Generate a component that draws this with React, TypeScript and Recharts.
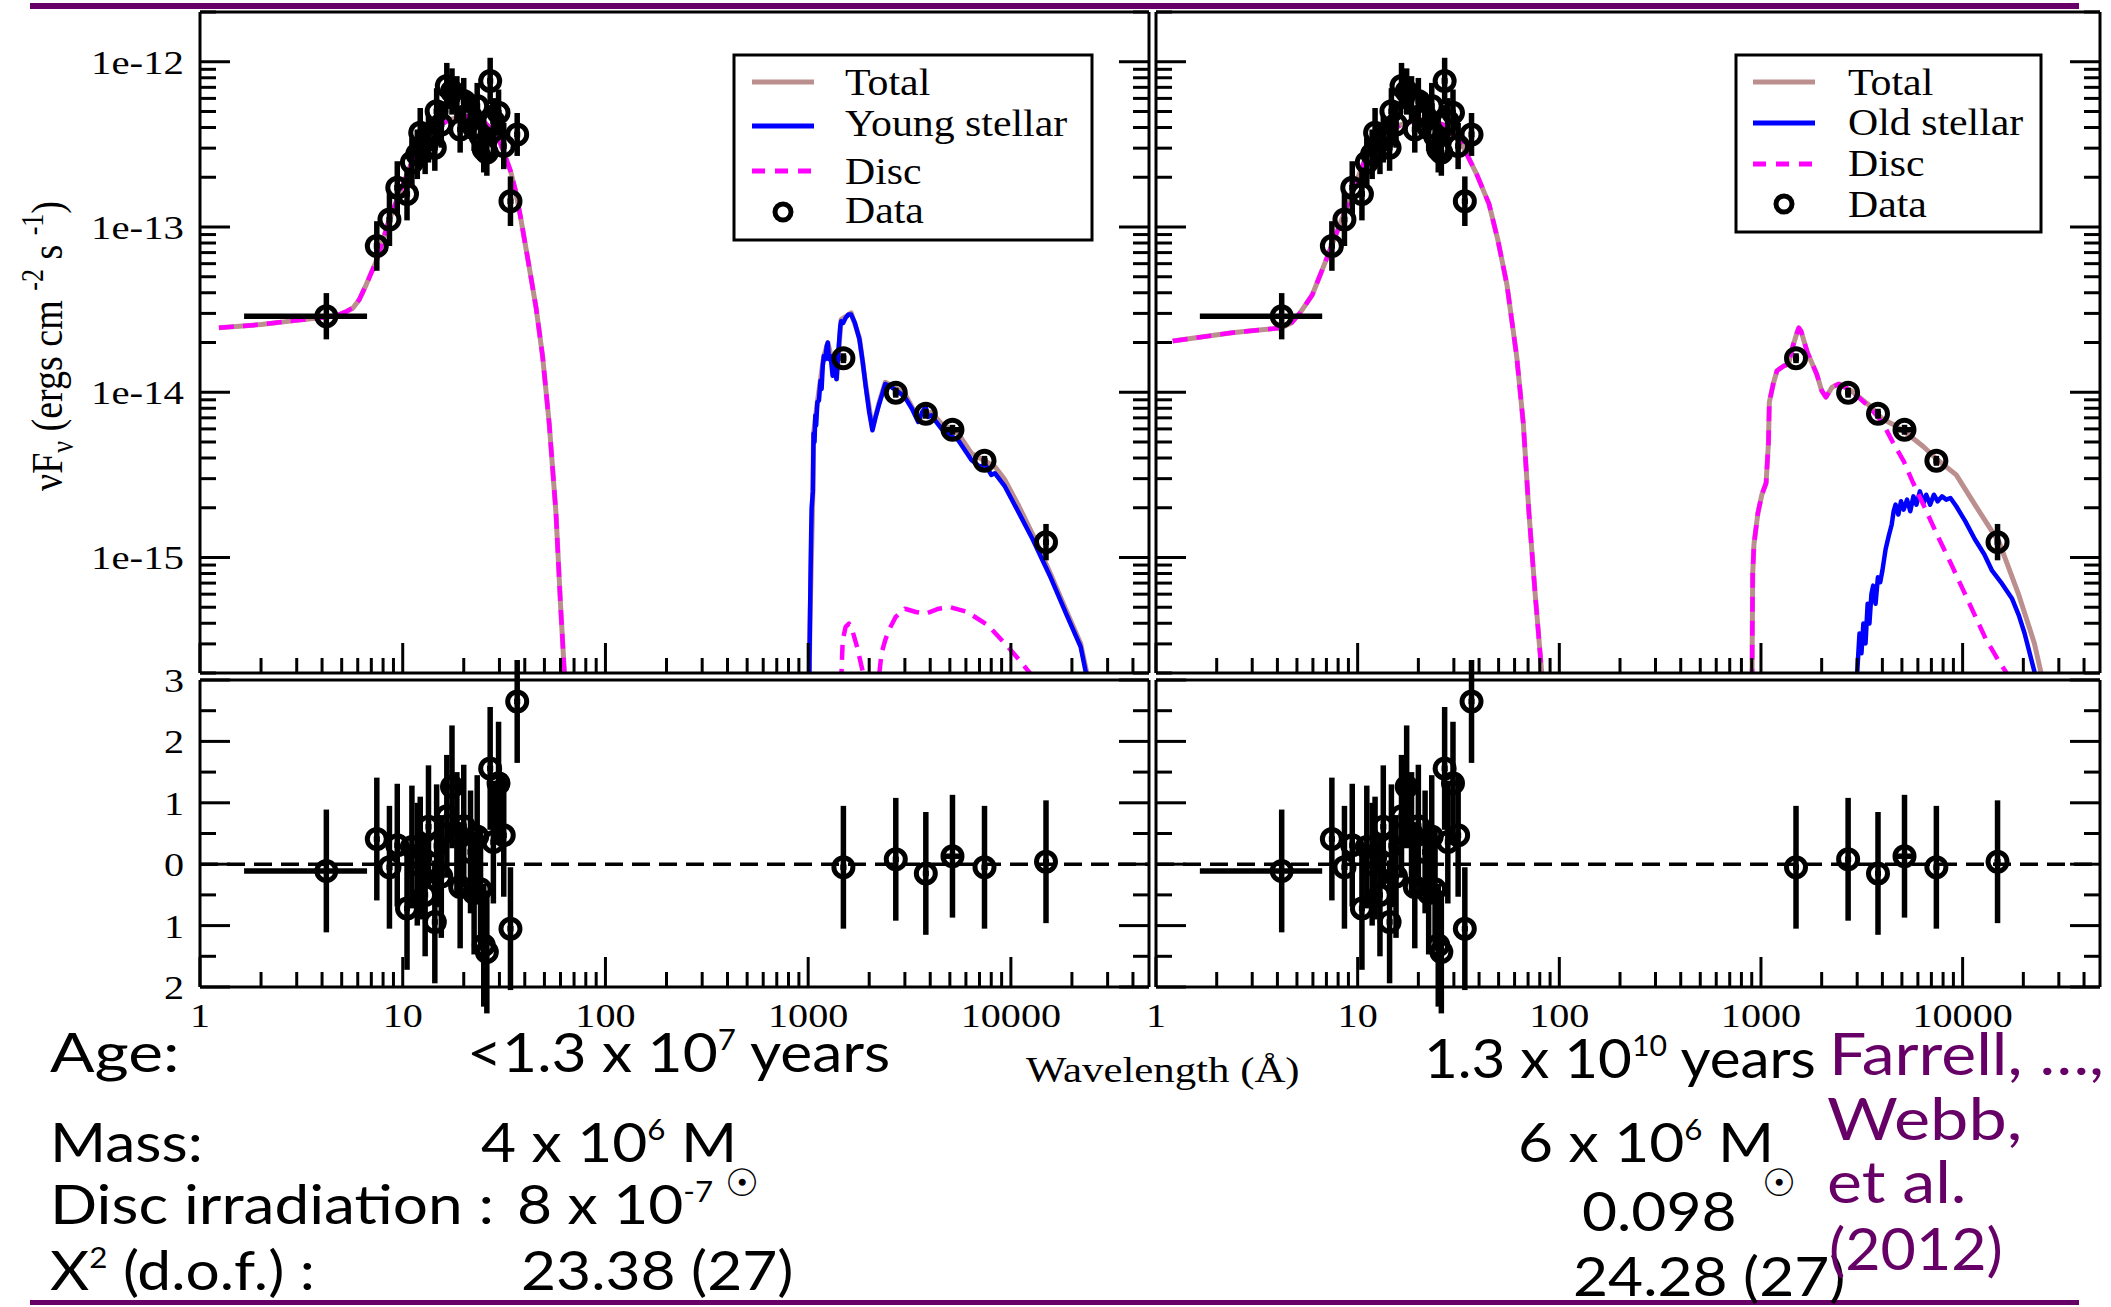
import React from "react";
import {
  ComposedChart,
  Line,
  Scatter,
  XAxis,
  YAxis,
  ErrorBar,
  ReferenceLine,
} from "recharts";

// ---- data ---------------------------------------------------------------

// X-ray / EUV points: wavelength (Å), log10 νFν, 1σ (dex), fit residual (σ)
const xrayWave = [4.2, 7.45, 8.6, 9.4, 10.5, 11.1, 11.8, 12.2, 12.9, 13.4, 14.4, 14.7, 15.5, 16.5, 17.5, 18.5, 19.2, 20.0, 21.6, 22.5, 23.3, 24.2, 25.1, 26.0, 27.0, 28.0, 29.7, 31.5, 34.0, 36.7];
const xrayLogFlux = [-13.54, -13.115, -12.955, -12.762, -12.8, -12.61, -12.56, -12.43, -12.53, -12.47, -12.52, -12.3, -12.38, -12.147, -12.18, -12.227, -12.41, -12.238, -12.328, -12.4, -12.268, -12.45, -12.53, -12.55, -12.116, -12.36, -12.308, -12.51, -12.844, -12.44];
const xrayErrDex = [0.14, 0.15, 0.16, 0.16, 0.16, 0.15, 0.15, 0.15, 0.15, 0.14, 0.14, 0.14, 0.14, 0.14, 0.14, 0.14, 0.14, 0.14, 0.14, 0.14, 0.14, 0.14, 0.14, 0.14, 0.14, 0.14, 0.14, 0.14, 0.15, 0.13];
const xrayResid = [-0.11, 0.41, -0.05, 0.31, -0.72, 0.28, 0.0, 0.1, -0.5, 0.61, -0.94, 0.3, -0.2, 0.78, 1.26, 0.5, -0.37, 0.62, 0.2, -0.47, 0.45, -0.41, -1.32, -1.43, 1.56, 0.36, 1.32, 0.47, -1.05, 2.65];
// the softest X-ray point is a wide band
const LOW_BIN: [number, number] = [1.65, 6.67];

// UV / optical / IR photometry
const uvWave = [1492, 2705, 3805, 5150, 7410, 14900];
const uvLogFlux = [-13.794, -14.003, -14.13, -14.227, -14.415, -14.907];
const uvErrDex = [0.03, 0.03, 0.03, 0.03, 0.03, 0.11];
const uvBandHalf = [0, 0, 0, 550, 0, 0];
const uvResid = [-0.05, 0.08, -0.15, 0.13, -0.05, 0.04];

const RESID_SIGMA = 1;

// model curves: [wavelength Å, log10 νFν]
const xrayModelLeft: [number, number][] = [
  [1.24, -13.61], [2, -13.59], [3, -13.565], [4.24, -13.545], [4.86, -13.53], [5.3, -13.51], [5.68, -13.49],
  [6.1, -13.44], [6.6, -13.35], [7.5, -13.19], [8.5, -12.97], [9.9, -12.76], [11, -12.62], [12.2, -12.51],
  [14.5, -12.4], [17, -12.35], [20, -12.33], [24.2, -12.34], [27.3, -12.41], [30, -12.48], [32, -12.57],
  [34, -12.66], [36, -12.78], [38, -12.93], [42.1, -13.245], [45.5, -13.49], [49, -13.785], [52.8, -14.19],
  [57, -14.73], [60, -15.28], [62.6, -15.68], [64, -15.9],
];
const xrayModelRight: [number, number][] = [
  [1.21, -13.69], [2.38, -13.64], [4.19, -13.61], [4.7, -13.58], [5.18, -13.52], [5.96, -13.41], [6.87, -13.22],
  [7.9, -13.03], [9.43, -12.785], [11.3, -12.54], [13.9, -12.43], [16.5, -12.38], [19.9, -12.35], [23, -12.36],
  [26.4, -12.38], [32.6, -12.49], [38.9, -12.68], [44.8, -12.86], [49.6, -13.08], [55, -13.35], [61.5, -13.785],
  [66.3, -14.19], [70.7, -14.73], [75.9, -15.22], [81.6, -15.68], [83, -15.9],
];

const youngStellar: [number, number][] = [
  [1009, -15.9], [1015, -15.6], [1020, -15.41], [1030, -15.0], [1040, -14.7], [1055, -14.6], [1060, -14.38],
  [1063, -14.25], [1075, -14.3], [1085, -14.14], [1095, -14.2], [1110, -14.06], [1130, -14.05], [1150, -13.93],
  [1165, -13.98], [1180, -13.84], [1195, -13.78], [1215, -13.8], [1235, -13.72], [1250, -13.7], [1265, -13.8],
  [1290, -13.78], [1320, -13.9], [1350, -13.85], [1380, -13.92], [1410, -13.75], [1440, -13.6], [1455, -13.57],
  [1490, -13.58], [1530, -13.55], [1580, -13.53], [1630, -13.53], [1700, -13.58], [1790, -13.68], [1860, -13.82],
  [1925, -13.97], [2000, -14.12], [2075, -14.23], [2150, -14.15], [2230, -14.08], [2400, -13.95], [2585, -13.97],
  [2800, -14.0], [3000, -14.03], [3250, -14.1], [3490, -14.18], [3650, -14.12], [3800, -14.09], [3900, -14.15],
  [4050, -14.14], [4540, -14.22], [5000, -14.26], [5500, -14.29], [6390, -14.41], [7000, -14.45], [7500, -14.44],
  [8000, -14.5], [8330, -14.49], [9340, -14.57], [10950, -14.73], [12800, -14.89], [15560, -15.11],
  [18880, -15.35], [22080, -15.54], [23460, -15.7], [24000, -15.9],
];
const totalUvLeft: [number, number][] = [
  [1009, -15.9], [1020, -15.41], [1055, -14.6], [1063, -14.25], [1110, -14.06], [1195, -13.78], [1250, -13.7],
  [1380, -13.92], [1455, -13.56], [1630, -13.52], [1790, -13.67], [1925, -13.96], [2075, -14.22], [2230, -14.07],
  [2400, -13.94], [2585, -13.96], [3000, -14.01], [3490, -14.16], [4050, -14.12], [4540, -14.19], [5500, -14.25],
  [6390, -14.37], [8330, -14.45], [9340, -14.53], [10950, -14.69], [12800, -14.86], [15560, -15.09],
  [18880, -15.33], [22080, -15.52], [23700, -15.7], [24300, -15.9],
];
const discUvLeft: [number, number][] = [
  [1430, -16.2], [1455, -15.75], [1480, -15.5], [1530, -15.42], [1590, -15.4], [1660, -15.45], [1750, -15.55],
  [1850, -15.68], [1940, -15.8], [2080, -16.3], [2200, -15.8], [2300, -15.58], [2400, -15.5], [2500, -15.44],
  [2700, -15.36], [3000, -15.31], [3400, -15.33], [3800, -15.34], [4400, -15.31], [5000, -15.3], [6100, -15.33],
  [7700, -15.41], [9340, -15.52], [11000, -15.62], [12800, -15.72], [14000, -15.85],
];

const totalUvRight: [number, number][] = [
  [900, -16.2], [905, -15.5], [910, -15.1], [923, -14.92], [966, -14.73], [1010, -14.62], [1060, -14.55],
  [1090, -14.3], [1100, -14.06], [1150, -13.95], [1200, -13.87], [1300, -13.84], [1370, -13.83], [1440, -13.72],
  [1500, -13.65], [1540, -13.61], [1580, -13.63], [1700, -13.76], [1800, -13.83], [1890, -13.89], [2000, -13.99],
  [2100, -14.03], [2250, -13.97], [2430, -13.95], [2800, -13.99], [3450, -14.08], [3990, -14.16], [4600, -14.2],
  [5300, -14.25], [6400, -14.33], [7520, -14.41], [9300, -14.5], [11500, -14.68], [15200, -14.91],
  [18900, -15.22], [22700, -15.52], [24500, -15.7], [25500, -15.95],
];
const discUvRight: [number, number][] = [
  [900, -16.2], [905, -15.5], [910, -15.1], [923, -14.92], [966, -14.73], [1010, -14.62], [1060, -14.55],
  [1090, -14.3], [1100, -14.06], [1150, -13.95], [1200, -13.87], [1300, -13.84], [1370, -13.83], [1440, -13.72],
  [1500, -13.65], [1540, -13.61], [1580, -13.63], [1700, -13.76], [1800, -13.83], [1890, -13.89], [2000, -13.99],
  [2100, -14.03], [2250, -13.97], [2430, -13.95], [2800, -13.99], [3450, -14.09], [3990, -14.18], [4500, -14.3],
  [5115, -14.42], [5640, -14.54], [6500, -14.7], [7520, -14.87], [8700, -15.03], [10000, -15.19],
  [11500, -15.35], [12990, -15.49], [15000, -15.62], [17600, -15.75], [19000, -15.95],
];
const oldStellar: [number, number][] = [
  [2990, -16.0], [3000, -15.7], [3080, -15.46], [3150, -15.58], [3220, -15.4], [3300, -15.52], [3380, -15.28],
  [3450, -15.4], [3530, -15.22], [3600, -15.17], [3700, -15.28], [3800, -15.12], [3900, -15.15], [4000, -15.08],
  [4150, -14.95], [4300, -14.87], [4450, -14.8], [4550, -14.72], [4650, -14.68], [4800, -14.74], [4950, -14.66],
  [5100, -14.71], [5300, -14.65], [5500, -14.72], [5700, -14.63], [5900, -14.68], [6140, -14.6], [6400, -14.67],
  [6600, -14.62], [6900, -14.68], [7200, -14.62], [7520, -14.66], [7900, -14.63], [8300, -14.65], [8700, -14.64],
  [9300, -14.69], [10300, -14.78], [11500, -14.89], [12800, -14.98], [14000, -15.08], [15500, -15.15],
  [17600, -15.25], [19000, -15.35], [20300, -15.46], [22800, -15.7], [23600, -15.95],
];

// ---- axes ---------------------------------------------------------------

const X_DOMAIN: [number, number] = [1, 48000];
const X_DECADES = [1, 10, 100, 1000, 10000];
const FLUX_DOMAIN: [number, number] = [2e-16, 2e-12];
const FLUX_DECADES = [1e-16, 1e-15, 1e-14, 1e-13, 1e-12];
const STEPS = [1, 2, 3, 4, 5, 6, 7, 8, 9];
const RES_DOMAIN: [number, number] = [-2, 3];
const RES_TICKS = [-2, -1.5, -1, -0.5, 0, 0.5, 1, 1.5, 2, 2.5, 3];

const X_TICKS = X_DECADES.flatMap((d) => STEPS.map((s) => s * d)).filter((v) => v <= X_DOMAIN[1]);
const FLUX_TICKS = FLUX_DECADES.flatMap((d) => STEPS.map((s) => s * d)).filter(
  (v) => v >= FLUX_DOMAIN[0] * 0.999 && v <= FLUX_DOMAIN[1] * 1.001
);

// ---- styling ------------------------------------------------------------

const SERIF = '"Liberation Serif", "Times New Roman", serif';
const SANS = 'Lato, "Liberation Sans", sans-serif';
const BROWN = "#bc8f8f";
const MAGENTA = "#ff00ff";
const BLUE = "#0000ff";
const PURPLE = "#660066";
const AXIS_LINE = { stroke: "#000", strokeWidth: 3 };
const MAJOR = 30;
const MINOR = 15;
const DASH = "15 9";
const MARK_DEX = 0.015;

type Pt = { x: number; y: number; yErr?: number | [number, number]; xErr?: [number, number] };

const toPts = (rows: [number, number][]): Pt[] => rows.map(([w, l]) => ({ x: w, y: Math.pow(10, l) }));
const dexSpan = (v: number, d: number): [number, number] => [v - v / Math.pow(10, d), v * Math.pow(10, d) - v];

// band < 0 marks the wide soft band, band > 0 a filter half-width in Å
const xErrFor = (w: number, band: number): [number, number] =>
  band < 0 ? [w - LOW_BIN[0], LOW_BIN[1] - w] : band > 0 ? [band, band] : dexSpan(w, MARK_DEX);

const sedPoints: Pt[] = [
  ...xrayWave.map((w, i) => {
    const f = Math.pow(10, xrayLogFlux[i]);
    return { x: w, y: f, yErr: dexSpan(f, xrayErrDex[i]), xErr: xErrFor(w, i === 0 ? -1 : 0) };
  }),
  ...uvWave.map((w, i) => {
    const f = Math.pow(10, uvLogFlux[i]);
    return { x: w, y: f, yErr: dexSpan(f, uvErrDex[i]), xErr: xErrFor(w, uvBandHalf[i]) };
  }),
];

const residPoints: Pt[] = [
  ...xrayWave.map((w, i) => ({ x: w, y: xrayResid[i], yErr: RESID_SIGMA, xErr: xErrFor(w, i === 0 ? -1 : 0) })),
  ...uvWave.map((w, i) => ({ x: w, y: uvResid[i], yErr: RESID_SIGMA, xErr: xErrFor(w, uvBandHalf[i]) })),
];

const isDecade = (v: number) => Math.abs(Math.log10(v) - Math.round(Math.log10(v))) < 1e-6;

// ---- tick marks (inward, xmgrace style) ---------------------------------

function XTickMark(props: any) {
  const { x, y, payload, side, label } = props;
  const major = isDecade(payload.value);
  const len = major ? MAJOR : MINOR;
  const dir = side === "bottom" ? -1 : 1;
  return (
    <g>
      <line x1={x} y1={y} x2={x} y2={y + dir * len} stroke="#000" strokeWidth={3} />
      {label && major && (
        <text
          transform={`translate(${x},${y + 40}) scale(1.18,1)`}
          textAnchor="middle"
          fontFamily={SERIF}
          fontSize={34}
          fill="#000"
          stroke="none"
        >
          {payload.value}
        </text>
      )}
    </g>
  );
}

function LogYTick(props: any) {
  const { x, y, payload, side, label } = props;
  const major = isDecade(payload.value);
  const len = major ? MAJOR : 16;
  const dir = side === "left" ? 1 : -1;
  return (
    <g>
      <line x1={x} y1={y} x2={x + dir * len} y2={y} stroke="#000" strokeWidth={3} />
      {label && major && (
        <text
          transform={`translate(${x - 16},${y + 12}) scale(1.2,1)`}
          textAnchor="end"
          fontFamily={SERIF}
          fontSize={34}
          fill="#000"
          stroke="none"
        >
          {`1e${Math.round(Math.log10(payload.value))}`}
        </text>
      )}
    </g>
  );
}

function ResYTick(props: any) {
  const { x, y, payload, side, label } = props;
  const major = Number.isInteger(payload.value);
  const len = major ? MAJOR : 16;
  const dir = side === "left" ? 1 : -1;
  return (
    <g>
      <line x1={x} y1={y} x2={x + dir * len} y2={y} stroke="#000" strokeWidth={3} />
      {label && major && (
        <text
          transform={`translate(${x - 16},${y + 12}) scale(1.18,1)`}
          textAnchor="end"
          fontFamily={SERIF}
          fontSize={34}
          fill="#000"
          stroke="none"
        >
          {Math.abs(payload.value)}
        </text>
      )}
    </g>
  );
}

const marker = (p: any) => (
  <circle cx={p.cx} cy={p.cy} r={9.5} fill="none" stroke="#000" strokeWidth={5} />
);

// axes are 1px thick so that they render; margins account for that pixel
const xAxes = (labels: boolean) => [
  <XAxis
    key="xb"
    dataKey="x"
    type="number"
    scale="log"
    domain={X_DOMAIN}
    allowDataOverflow
    ticks={X_TICKS}
    interval={0}
    height={1}
    tickSize={0}
    tickMargin={0}
    tickLine={false}
    axisLine={AXIS_LINE}
    tick={(p: any) => <XTickMark {...p} side="bottom" label={labels} />}
  />,
  <XAxis
    key="xt"
    xAxisId="top"
    orientation="top"
    type="number"
    scale="log"
    domain={X_DOMAIN}
    allowDataOverflow
    ticks={X_TICKS}
    interval={0}
    height={1}
    tickSize={0}
    tickMargin={0}
    tickLine={false}
    axisLine={AXIS_LINE}
    tick={(p: any) => <XTickMark {...p} side="top" />}
  />,
];

const modelLine = (key: string, rows: [number, number][], color: string, width: number, dashed = false) => (
  <Line
    key={key}
    data={toPts(rows)}
    dataKey="y"
    type="linear"
    stroke={color}
    strokeWidth={width}
    strokeDasharray={dashed ? DASH : undefined}
    strokeLinejoin="round"
    dot={false}
    activeDot={false}
    isAnimationActive={false}
  />
);

// ---- panels -------------------------------------------------------------

type PanelProps = {
  left: number;
  width: number;
  marginLeft: number;
  marginRight: number;
  labels: boolean;
};

function SedPanel({ left, width, marginLeft, marginRight, labels, lines }: PanelProps & { lines: React.ReactNode[] }) {
  return (
    <div style={{ position: "absolute", left, top: 0 }}>
      <ComposedChart
        width={width}
        height={680}
        margin={{ top: 11, right: marginRight - 1, bottom: 6, left: marginLeft - 1 }}
      >
        {xAxes(false)}
        <YAxis
          dataKey="y"
          type="number"
          scale="log"
          domain={FLUX_DOMAIN}
          allowDataOverflow
          ticks={FLUX_TICKS}
          interval={0}
          width={1}
          tickSize={0}
          tickMargin={0}
          tickLine={false}
          axisLine={AXIS_LINE}
          tick={(p: any) => <LogYTick {...p} side="left" label={labels} />}
        />
        <YAxis
          yAxisId="right"
          orientation="right"
          type="number"
          scale="log"
          domain={FLUX_DOMAIN}
          allowDataOverflow
          ticks={FLUX_TICKS}
          interval={0}
          width={1}
          tickSize={0}
          tickMargin={0}
          tickLine={false}
          axisLine={AXIS_LINE}
          tick={(p: any) => <LogYTick {...p} side="right" />}
        />
        {lines}
        <Scatter data={sedPoints} isAnimationActive={false} shape={marker}>
          <ErrorBar dataKey="yErr" direction="y" width={0} stroke="#000" strokeWidth={5.5} />
          <ErrorBar dataKey="xErr" direction="x" width={0} stroke="#000" strokeWidth={5.5} />
        </Scatter>
      </ComposedChart>
    </div>
  );
}

function ResidualPanel({ left, width, marginLeft, marginRight, labels }: PanelProps) {
  return (
    <div style={{ position: "absolute", left, top: 660 }}>
      <ComposedChart
        width={width}
        height={386}
        margin={{ top: 19, right: marginRight - 1, bottom: 58, left: marginLeft - 1 }}
      >
        {xAxes(true)}
        <YAxis
          dataKey="y"
          type="number"
          domain={RES_DOMAIN}
          allowDataOverflow
          ticks={RES_TICKS}
          interval={0}
          width={1}
          tickSize={0}
          tickMargin={0}
          tickLine={false}
          axisLine={AXIS_LINE}
          tick={(p: any) => <ResYTick {...p} side="left" label={labels} />}
        />
        <YAxis
          yAxisId="right"
          orientation="right"
          type="number"
          domain={RES_DOMAIN}
          allowDataOverflow
          ticks={RES_TICKS}
          interval={0}
          width={1}
          tickSize={0}
          tickMargin={0}
          tickLine={false}
          axisLine={AXIS_LINE}
          tick={(p: any) => <ResYTick {...p} side="right" />}
        />
        <ReferenceLine y={0} stroke="#000" strokeWidth={3.5} strokeDasharray="18 9" />
        <Scatter data={residPoints} isAnimationActive={false} shape={marker}>
          <ErrorBar dataKey="yErr" direction="y" width={0} stroke="#000" strokeWidth={5.5} />
          <ErrorBar dataKey="xErr" direction="x" width={0} stroke="#000" strokeWidth={5.5} />
        </Scatter>
      </ComposedChart>
    </div>
  );
}

// ---- annotations --------------------------------------------------------

type LegendRow = { label: string; color?: string; dashed?: boolean; y: number; base: number; data?: boolean };

function LegendBox({ box, sample, textX, rows }: { box: number[]; sample: number[]; textX: number; rows: LegendRow[] }) {
  return (
    <g>
      <rect x={box[0]} y={box[1]} width={box[2]} height={box[3]} fill="#fff" stroke="#000" strokeWidth={3} />
      {rows.map((r) => (
        <g key={r.label}>
          {r.data ? (
            <circle cx={(sample[0] + sample[1]) / 2} cy={r.y} r={8} fill="none" stroke="#000" strokeWidth={5} />
          ) : (
            <line
              x1={sample[0]}
              x2={sample[1]}
              y1={r.y}
              y2={r.y}
              stroke={r.color}
              strokeWidth={5}
              strokeDasharray={r.dashed ? "13 10" : undefined}
            />
          )}
          <text transform={`translate(${textX},${r.base}) scale(1.1,1)`} fontFamily={SERIF} fontSize={38} fill="#000">
            {r.label}
          </text>
        </g>
      ))}
    </g>
  );
}

function Txt({
  x,
  y,
  size = 54,
  sx = 1.12,
  fill = "#000",
  children,
}: {
  x: number;
  y: number;
  size?: number;
  sx?: number;
  fill?: string;
  children: React.ReactNode;
}) {
  return (
    <text transform={`translate(${x},${y}) scale(${sx},1)`} fontFamily={SANS} fontSize={size} fill={fill}>
      {children}
    </text>
  );
}

const Sup = ({ t }: { t: string }) => (
  <tspan dy={-22} fontSize={28}>
    {t}
  </tspan>
);

function Annotations() {
  return (
    <svg width={2111} height={1307} style={{ position: "absolute", left: 0, top: 0, pointerEvents: "none" }}>
      <rect x={30} y={3} width={2049} height={6} fill={PURPLE} />
      <rect x={30} y={1300} width={2049} height={5} fill={PURPLE} />

      <text
        transform="translate(62,346) rotate(-90) scale(1,1.18)"
        textAnchor="middle"
        fontFamily={SERIF}
        fontSize={38}
        fill="#000"
      >
        νF
        <tspan dy={9} fontSize={26}>
          ν
        </tspan>
        <tspan dy={-9}> (ergs cm </tspan>
        <tspan dy={-16} fontSize={26}>
          -2
        </tspan>
        <tspan dy={16}> s </tspan>
        <tspan dy={-16} fontSize={26}>
          -1
        </tspan>
        <tspan dy={16}>)</tspan>
      </text>

      <text transform="translate(1026,1082) scale(1.19,1)" fontFamily={SERIF} fontSize={36} fill="#000">
        Wavelength (Å)
      </text>

      <LegendBox
        box={[734, 55, 358, 185]}
        sample={[752, 814]}
        textX={845}
        rows={[
          { label: "Total", color: BROWN, y: 82, base: 95 },
          { label: "Young stellar", color: BLUE, y: 126, base: 136 },
          { label: "Disc", color: MAGENTA, dashed: true, y: 171, base: 184 },
          { label: "Data", data: true, y: 212, base: 223 },
        ]}
      />
      <LegendBox
        box={[1736, 55, 305, 177]}
        sample={[1753, 1815]}
        textX={1848}
        rows={[
          { label: "Total", color: BROWN, y: 82, base: 95 },
          { label: "Old stellar", color: BLUE, y: 123, base: 135 },
          { label: "Disc", color: MAGENTA, dashed: true, y: 164, base: 176 },
          { label: "Data", data: true, y: 204, base: 217 },
        ]}
      />

      <Txt x={50} y={1072} sx={1.22}>Age:</Txt>
      <Txt x={467} y={1072}>
        {"<1.3 x 10"}
        <Sup t="7" />
        <tspan dy={22}> years</tspan>
      </Txt>
      <Txt x={1424} y={1078} sx={1.08}>
        1.3 x 10
        <Sup t="10" />
        <tspan dy={22}> years</tspan>
      </Txt>

      <Txt x={50} y={1162}>Mass:</Txt>
      <Txt x={481} y={1162}>
        4 x 10
        <Sup t="6" />
        <tspan dy={22}> M</tspan>
      </Txt>
      <text x={742} y={1196} textAnchor="middle" fontFamily="DejaVu Sans" fontSize={38} fill="#000">
        ☉
      </text>
      <Txt x={1518} y={1162}>
        6 x 10
        <Sup t="6" />
        <tspan dy={22}> M</tspan>
      </Txt>
      <text x={1779} y={1196} textAnchor="middle" fontFamily="DejaVu Sans" fontSize={38} fill="#000">
        ☉
      </text>

      <Txt x={50} y={1224} sx={1.15}>Disc irradiation :</Txt>
      <Txt x={517} y={1224}>
        8 x 10
        <Sup t="-7" />
      </Txt>
      <Txt x={1582} y={1231}>0.098</Txt>

      <Txt x={50} y={1290}>
        X
        <Sup t="2" />
        <tspan dy={22}> (d.o.f.) :</tspan>
      </Txt>
      <Txt x={521} y={1290}>23.38 (27)</Txt>
      <Txt x={1573} y={1296}>24.28 (27)</Txt>

      <Txt x={1829} y={1075} size={58} sx={1.14} fill={PURPLE}>Farrell, …,</Txt>
      <Txt x={1827} y={1140} size={58} sx={1.18} fill={PURPLE}>Webb,</Txt>
      <Txt x={1827} y={1203} size={58} sx={1.14} fill={PURPLE}>et al.</Txt>
      <Txt x={1829} y={1270} size={58} sx={1.05} fill={PURPLE}>(2012)</Txt>
    </svg>
  );
}

export default function App() {
  const leftGeom = { left: 0, width: 1152, marginLeft: 200, marginRight: 3 };
  const rightGeom = { left: 1130, width: 981, marginLeft: 26, marginRight: 11 };

  const leftLines = [
    modelLine("xt", xrayModelLeft, BROWN, 5),
    modelLine("xd", xrayModelLeft, MAGENTA, 4.5, true),
    modelLine("ut", totalUvLeft, BROWN, 5),
    modelLine("uy", youngStellar, BLUE, 4.5),
    modelLine("ud", discUvLeft, MAGENTA, 4.5, true),
  ];
  const rightLines = [
    modelLine("xt", xrayModelRight, BROWN, 5),
    modelLine("xd", xrayModelRight, MAGENTA, 4.5, true),
    modelLine("ut", totalUvRight, BROWN, 5),
    modelLine("uo", oldStellar, BLUE, 4.5),
    modelLine("ud", discUvRight, MAGENTA, 4.5, true),
  ];

  return (
    <div style={{ position: "absolute", left: 0, top: 0, width: 2111, height: 1307, background: "#fff", overflow: "hidden" }}>
      <SedPanel {...leftGeom} labels lines={leftLines} />
      <SedPanel {...rightGeom} labels={false} lines={rightLines} />
      <ResidualPanel {...leftGeom} labels />
      <ResidualPanel {...rightGeom} labels={false} />
      <Annotations />
    </div>
  );
}
